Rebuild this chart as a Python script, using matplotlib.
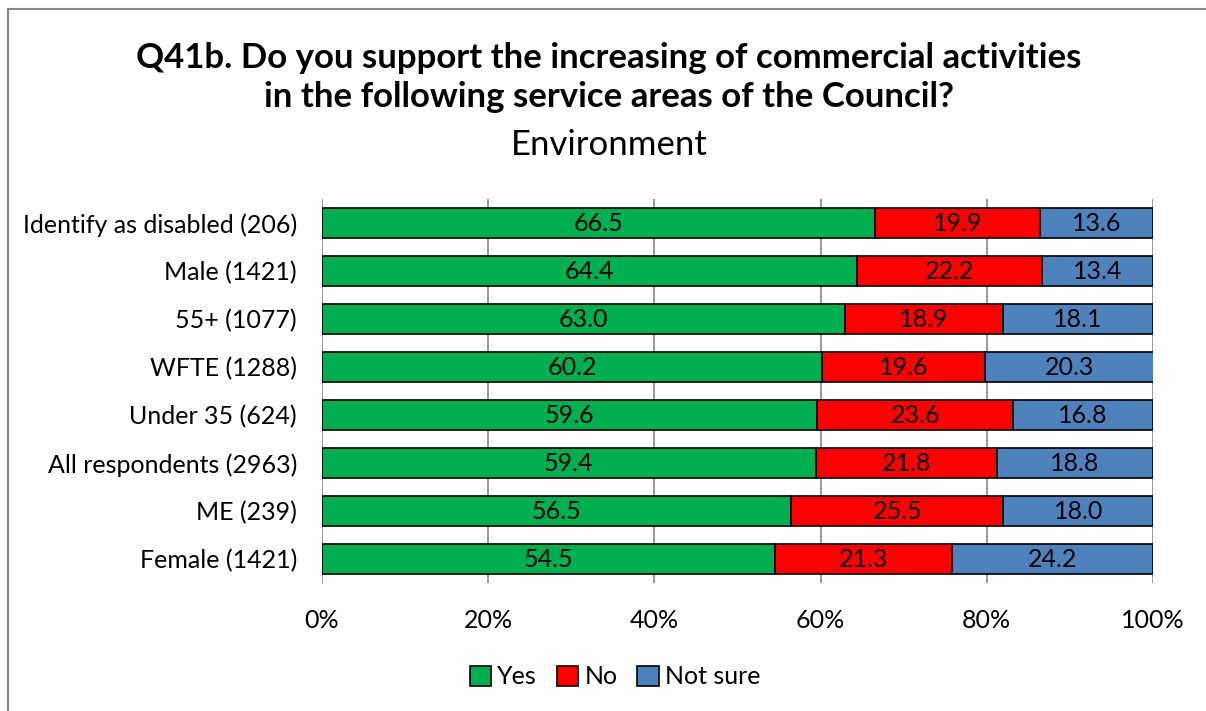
import matplotlib.pyplot as plt
import numpy as np

plt.rcParams['font.family'] = ['Lato', 'DejaVu Sans']

# Data (top to bottom as shown)
groups = ['Identify as disabled (206)', 'Male (1421)', '55+ (1077)', 'WFTE (1288)',
          'Under 35 (624)', 'All respondents (2963)', 'ME (239)', 'Female (1421)']
yes = [66.5, 64.4, 63.0, 60.2, 59.6, 59.4, 56.5, 54.5]
no = [19.9, 22.2, 18.9, 19.6, 23.6, 21.8, 25.5, 21.3]
not_sure = [13.6, 13.4, 18.1, 20.3, 16.8, 18.8, 18.0, 24.2]
series = ['Yes', 'No', 'Not sure']
colors = ['#00B050', '#FF0000', '#4F81BD']

fig = plt.figure(figsize=(12.06, 7.11), dpi=100)
ax = fig.add_axes([0.267, 0.18, 0.689, 0.54])

y = np.arange(len(groups))
left = np.zeros(len(groups))
for name, vals, c in zip(series, [yes, no, not_sure], colors):
    vals = np.array(vals)
    ax.barh(y, vals, left=left, height=0.63, color=c, edgecolor='black',
            linewidth=1.2, label=name, zorder=3)
    for yi, l, v in zip(y, left, vals):
        ax.text(l + v / 2, yi, f'{v:.1f}', ha='center', va='center',
                fontsize=18, color='black', zorder=4)
    left += vals

ax.set_xlim(0, 100)
ax.set_ylim(len(groups) - 0.5, -0.5)
ax.set_yticks(y)
ax.set_yticklabels(groups, fontsize=18)
ax.set_xticks(np.arange(0, 101, 20))
ax.set_xticklabels([f'{t}%' for t in range(0, 101, 20)], fontsize=18)
ax.tick_params(axis='y', length=0, pad=18)
ax.tick_params(axis='x', length=0, pad=19)
ax.grid(axis='x', color='#868686', linewidth=1.2, zorder=0)
for s in ax.spines.values():
    s.set_visible(False)

fig.text(0.505, 0.891, 'Q41b. Do you support the increasing of commercial activities\n'
         'in the following service areas of the Council?', ha='center', va='center',
         fontsize=25, fontweight='bold', linespacing=1.3)
fig.text(0.505, 0.796, 'Environment', ha='center', va='center', fontsize=25)

handles, labels = ax.get_legend_handles_labels()
fig.legend(handles, labels, loc='center', bbox_to_anchor=(0.51, 0.048), ncol=3,
           frameon=False, fontsize=18, handlelength=0.85, handleheight=0.85,
           handletextpad=0.25, columnspacing=0.8)

# outer chart border
fig.patches.append(plt.Rectangle((0.007, -0.01), 1.1, 0.997, transform=fig.transFigure,
                                 fill=False, edgecolor='#868686', linewidth=1.5))

fig.savefig('out.png', dpi=100)
